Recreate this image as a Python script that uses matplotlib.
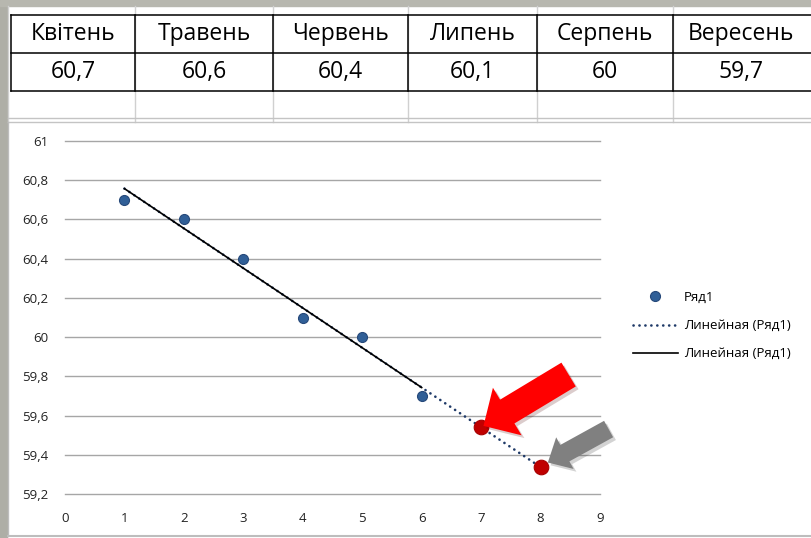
import numpy as np
import matplotlib
matplotlib.use('Agg')
import matplotlib.pyplot as plt
from matplotlib.lines import Line2D
from matplotlib.patches import Rectangle
from matplotlib import patheffects as pe

plt.rcParams['font.family'] = ['Open Sans', 'DejaVu Sans']

# table data
months = ['Квітень', 'Травень', 'Червень', 'Липень', 'Серпень', 'Вересень']
values = [60.7, 60.6, 60.4, 60.1, 60, 59.7]

# chart data
x_obs = [1, 2, 3, 4, 5, 6]
x_fc = [7, 8]
y_fc = [59.54, 59.34]
y_ticks = [59.2, 59.4, 59.6, 59.8, 60, 60.2, 60.4, 60.6, 60.8, 61]
x_ticks = [0, 1, 2, 3, 4, 5, 6, 7, 8, 9]

series_label = 'Ряд1'
trend_label = 'Линейная (Ряд1)'


def ua(v):
    return f'{v:g}'.replace('.', ',')


W, H = 811, 538
fig = plt.figure(figsize=(W / 100, H / 100), dpi=100)

# ---- spreadsheet background, pixel coords ----
bg = fig.add_axes([0, 0, 1, 1])
bg.set_xlim(0, W)
bg.set_ylim(H, 0)
bg.axis('off')
bg.add_patch(Rectangle((0, 0), W, H, color='white'))
bg.add_patch(Rectangle((0, 0), 7, H, color='#aeaea6'))
bg.add_patch(Rectangle((0, 0), W, 6, color='#b7b7af'))

col_x = [11, 135, 273, 408, 537, 673, 809]
row_y = [15, 53, 91]
grid_c = '#d0d0d0'
for cx in [8] + col_x[1:-1]:
    bg.plot([cx, cx], [6, 122], color=grid_c, lw=1)
for ry in [118, 122]:
    bg.plot([8, W], [ry, ry], color='#c4c4c4', lw=1)
bg.plot([8, 8], [122, 536], color='#bdbdbd', lw=1)
bg.plot([8, W], [536, 536], color='#bdbdbd', lw=1.5)

for ry in row_y:
    bg.plot([col_x[0], W], [ry, ry], color='black', lw=1.1)
for cx in col_x[:-1]:
    bg.plot([cx, cx], [row_y[0], row_y[-1]], color='black', lw=1.1)

for i, (m, v) in enumerate(zip(months, values)):
    cx = (col_x[i] + col_x[i + 1]) / 2
    bg.text(cx, (row_y[0] + row_y[1]) / 2, m, ha='center', va='center',
            fontsize=16.5, color='black')
    bg.text(cx, (row_y[1] + row_y[2]) / 2, ua(v), ha='center', va='center',
            fontsize=16.5, color='black')

# ---- chart ----
ax = fig.add_axes([65 / W, 1 - 494 / H, 535 / W, 353 / H])
ax.set_facecolor('none')
ax.set_xlim(0, 9)
ax.set_ylim(59.2, 61)
ax.set_yticks(y_ticks)
ax.set_yticklabels([ua(t) for t in y_ticks])
ax.set_xticks(x_ticks)
ax.set_xticklabels([str(t) for t in x_ticks])
ax.yaxis.grid(True, color='#a6a6a6', lw=1)
for gl in ax.get_ygridlines():
    gl.set_clip_on(False)
ax.set_axisbelow(True)
for s in ax.spines.values():
    s.set_visible(False)
ax.tick_params(axis='y', length=0, pad=12, labelsize=9.5, colors='#222222')
ax.tick_params(axis='x', length=0, pad=13, labelsize=9.5, colors='#222222')

coef = np.polyfit(x_obs, values, 1)
x_dot = np.array([x_obs[0], x_fc[-1]])
x_sol = np.array([x_obs[0], x_obs[-1]])
dot_style = dict(color='#1f3a68', lw=1.9, ls=(0, (0.05, 2.2)), dash_capstyle='round')
sol_style = dict(color='black', lw=1.2)
ax.plot(x_dot, np.polyval(coef, x_dot), zorder=2, **dot_style)
ax.plot(x_sol, np.polyval(coef, x_sol), zorder=3, **sol_style)

blue = dict(marker='o', ls='none', ms=7.2, mfc='#305f97', mec='#26497a', mew=0.8)
ax.plot(x_obs, values, zorder=4, **blue)
ax.plot(x_fc, y_fc, 'o', ms=10.5, mfc='#c00000', mec='#a80000', mew=0.8,
        zorder=4, clip_on=False)

shadow = [pe.SimplePatchShadow(offset=(2, -2), alpha=0.2), pe.Normal()]
ax.annotate('', xy=(x_fc[0], y_fc[0]), xytext=(63, 38), textcoords='offset points',
            arrowprops=dict(arrowstyle='simple,head_length=2.0,head_width=4.0,tail_width=2.0',
                            mutation_scale=10, fc='#ff0000', ec='none',
                            shrinkA=0, shrinkB=2, path_effects=shadow),
            annotation_clip=False, zorder=6)
ax.annotate('', xy=(x_fc[1], y_fc[1]), xytext=(49, 27), textcoords='offset points',
            arrowprops=dict(arrowstyle='simple,head_length=1.4,head_width=2.6,tail_width=1.35',
                            mutation_scale=10, fc='#808080', ec='none',
                            shrinkA=0, shrinkB=6, path_effects=shadow),
            annotation_clip=False, zorder=6)

handles = [Line2D([], [], **blue),
           Line2D([], [], **dot_style),
           Line2D([], [], **sol_style)]
fig.legend(handles, [series_label, trend_label, trend_label],
           loc='upper left', bbox_to_anchor=(633 / W, 1 - 291 / H),
           frameon=False, fontsize=9.5, borderpad=0, borderaxespad=0,
           handlelength=3.4, handletextpad=0.45, labelspacing=1.15, numpoints=1)

fig.savefig('out.png', dpi=100)
